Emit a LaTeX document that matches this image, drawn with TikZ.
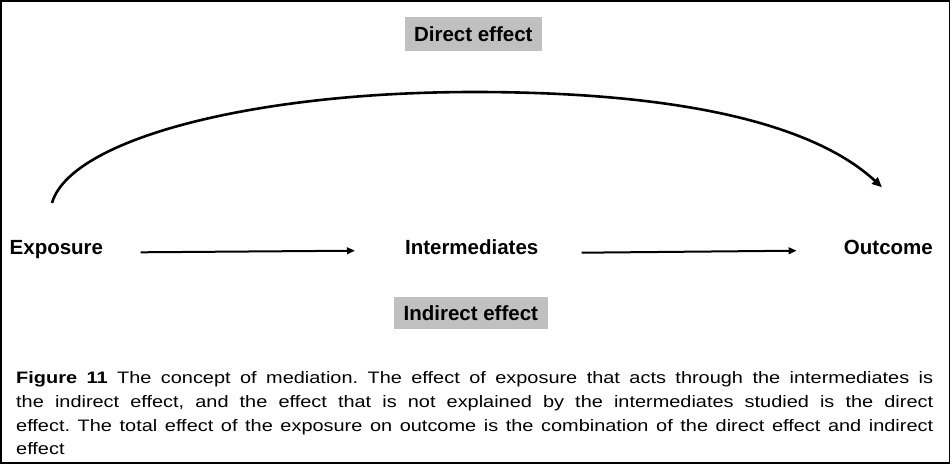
\documentclass[tikz,border=0pt]{standalone}
\usepackage{fontspec}
\setmainfont{Liberation Sans}
\newfontfamily\capfont[FakeStretch=1.2]{Liberation Sans}
\usetikzlibrary{arrows.meta}
\definecolor{labelgray}{RGB}{192,192,192}
\frenchspacing
\begin{document}
\begin{tikzpicture}[x=1pt,y=-1pt,
  term/.style={font=\fontsize{20.5}{24}\selectfont\bfseries, inner sep=0pt},
  effectlabel/.style={term, fill=labelgray},
  captionline/.style={font=\capfont\fontsize{16.6}{24}\selectfont, inner sep=0pt, anchor=base west},
  flow/.style={line width=2pt, -{Triangle[length=8pt,width=6.5pt]}},
  bow/.style={line width=2.6pt, -{Triangle[length=10pt,width=8.5pt]}}
]
\useasboundingbox (0,0) rectangle (952,466);

% outer frame
\draw[line width=1.8pt] (1,1) rectangle (949.5,463.3);

% shaded effect labels
\node[effectlabel, minimum width=136.7pt, minimum height=33.4pt] (direct) at (473.3,34) {Direct effect};
\node[effectlabel, minimum width=153.7pt, minimum height=32pt] (indirect) at (470.8,313.3) {Indirect effect};

% the three terms of the mediation chain
\node[term, anchor=base west] (exposure) at (9.5,254) {Exposure};
\node[term, anchor=base] (intermediates) at (471.7,254) {Intermediates};
\node[term, anchor=base east] (outcome) at (933,254) {Outcome};

% indirect path
\coordinate (expout) at (140.7,252.3);
\coordinate (intin) at (355,250.7);
\coordinate (intout) at (581.7,252.7);
\coordinate (outin) at (796.7,250.7);
\draw[flow] (expout) -- (intin);
\draw[flow] (intout) -- (outin);

% direct path arching over the chain
\coordinate (bowstart) at (52,203);
\coordinate (bowtop) at (474,92);
\coordinate (bowend) at (882,187.3);
\draw[bow] (bowstart) .. controls (70,140) and (250,92) .. (bowtop)
  .. controls (700,92) and (820,130) .. (bowend);

% caption
\node[captionline] (cap1) at (16,383.5) {\makebox[917pt][s]{{\bfseries Figure 11} The concept of mediation. The effect of exposure that acts through the intermediates is}};
\node[captionline] (cap2) at (16,407.3) {\makebox[917pt][s]{the indirect effect, and the effect that is not explained by the intermediates studied is the direct}};
\node[captionline] (cap3) at (16,431.1) {\makebox[917pt][s]{effect. The total effect of the exposure on outcome is the combination of the direct effect and indirect}};
\node[captionline] (cap4) at (16,454.9) {effect};
\end{tikzpicture}
\end{document}
